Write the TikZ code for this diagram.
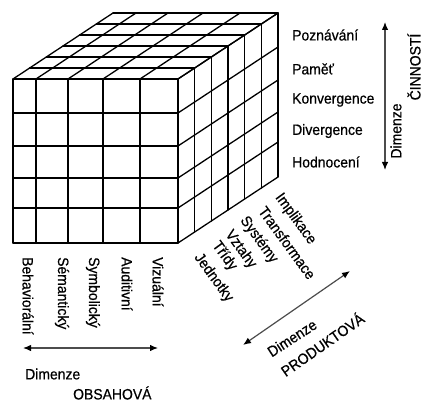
\documentclass[tikz,border=0pt]{standalone}
\usepackage{fontspec}
\setmainfont{Liberation Sans}[FakeStretch=0.93,FakeBold=0.6]
\usetikzlibrary{arrows.meta}
\begin{document}
\begin{tikzpicture}[x=1pt,y=-1pt,
  grid/.style={line width=1.3pt, black, line cap=round, line join=round},
  lbl/.style={font=\fontsize{15}{18}\selectfont, inner sep=0pt},
  dimarrow/.style={line width=1.2pt, draw=black!70,
    {Latex[length=8pt,width=6.5pt,black]}-{Latex[length=8pt,width=6.5pt,black]}}]
\useasboundingbox (0,0) rectangle (427,403);
\fill[white] (0,0) rectangle (427,403);
% front face
\foreach \c in {13,36,68,103,140,178} {\draw[grid] (\c,79) -- (\c,243);}
\foreach \r in {79,113,146,178,208,243} {\draw[grid] (13,\r) -- (178,\r);}
% top face
\foreach \c in {13,36,68,103,140,178} {\draw[grid] (\c,79) -- (\c+100,13);}
\foreach \k in {1,...,6} {\draw[grid] (13+\k*16.667,79-\k*11) -- (178+\k*16.667,79-\k*11);}
% right face
\foreach \r in {79,113,146,178,208,243} {\draw[grid] (178,\r) -- (278,\r-66);}
\foreach \k in {1,...,6} {\draw[grid] (178+\k*16.667,79-\k*11) -- (178+\k*16.667,243-\k*11);}
% operations
\node[lbl, anchor=west] (poz) at (292,35) {Poznávání};
\node[lbl, anchor=west] (pam) at (292,69) {Paměť};
\node[lbl, anchor=west] (kon) at (292,100) {Konvergence};
\node[lbl, anchor=west] (div) at (292,131) {Divergence};
\node[lbl, anchor=west] (hod) at (292,162) {Hodnocení};
\coordinate (opTop) at (385,22);
\coordinate (opBot) at (385,170);
\draw[dimarrow] (opTop) -- (opBot);
\node[lbl, rotate=90] (opd1) at (396,131) {Dimenze};
\node[lbl, rotate=90] (opd2) at (414,67) {ČINNOSTÍ};
% contents
\node[lbl, rotate=-90, anchor=west] (beh) at (28,257) {Behaviorální};
\node[lbl, rotate=-90, anchor=west] (sem) at (62,257) {Sémantický};
\node[lbl, rotate=-90, anchor=west] (sym) at (93,257) {Symbolický};
\node[lbl, rotate=-90, anchor=west] (aud) at (127,257) {Auditivní};
\node[lbl, rotate=-90, anchor=west] (viz) at (158,257) {Vizuální};
\coordinate (coL) at (23,348);
\coordinate (coR) at (158,348);
\draw[dimarrow] (coL) -- (coR);
\node[lbl, anchor=west] (cod1) at (25,374) {Dimenze};
\node[lbl, anchor=west] (cod2) at (73,393) {OBSAHOVÁ};
% products
\node[lbl, rotate=-54, anchor=west] (jed) at (197,255) {Jednotky};
\node[lbl, rotate=-54, anchor=west] (tri) at (215,243) {Třídy};
\node[lbl, rotate=-54, anchor=west] (vzt) at (228,232) {Vztahy};
\node[lbl, rotate=-54, anchor=west] (sys) at (243,218) {Systémy};
\node[lbl, rotate=-54, anchor=west] (tra) at (262,208) {Transformace};
\node[lbl, rotate=-54, anchor=west] (imp) at (278,195) {Implikace};
\coordinate (prL) at (243,345);
\coordinate (prR) at (350,271);
\draw[dimarrow] (prL) -- (prR);
\node[lbl, rotate=33] (prd1) at (292,338) {Dimenze};
\node[lbl, rotate=35] (prd2) at (322,344) {PRODUKTOVÁ};
\end{tikzpicture}
\end{document}
